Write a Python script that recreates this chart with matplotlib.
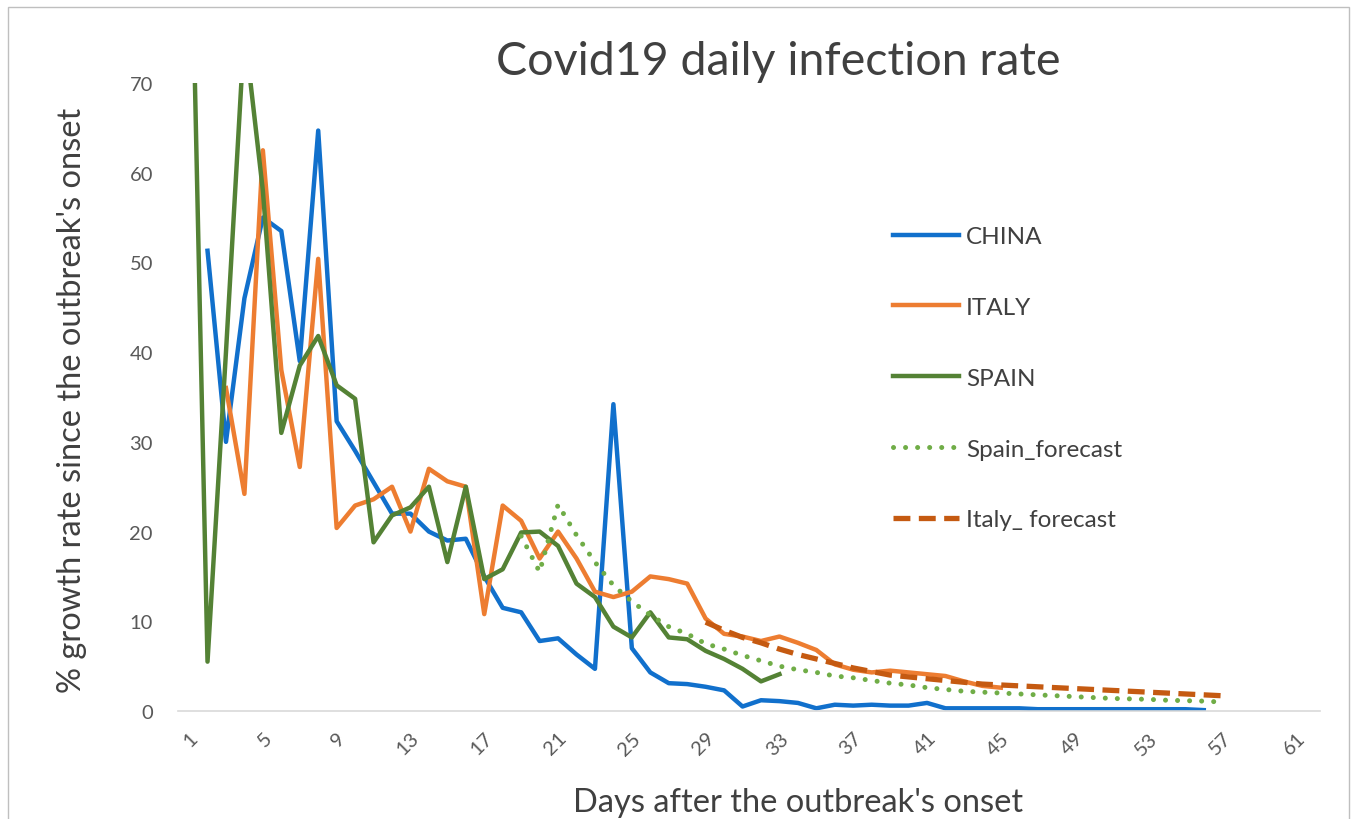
import matplotlib
matplotlib.use("Agg")
import matplotlib.pyplot as plt
from matplotlib.patches import Rectangle

plt.rcParams['font.family'] = ['Lato', 'DejaVu Sans']

# values (% growth per day)
china_start = 2
china = [51.3, 30, 46, 55, 53.5, 39, 64.7, 32.3, 29, 25.5, 22, 22, 20, 19, 19.2,
         15, 11.5, 11, 7.8, 8.1, 6.3, 4.7, 34.2, 7, 4.3, 3.1, 3, 2.7, 2.3, 0.5,
         1.2, 1.1, 0.9, 0.3, 0.7, 0.6, 0.7, 0.6, 0.6, 0.9, 0.3, 0.3, 0.3, 0.3, 0.3,
         0.2, 0.2, 0.2, 0.2, 0.2, 0.2, 0.2, 0.2, 0.2, 0.1]

italy_start = 3
italy = [36, 24.2, 62.5, 38, 27.2, 50.4, 20.4, 22.9, 23.6, 25, 20, 27, 25.6, 25,
         10.8, 22.9, 21.2, 17, 20, 17, 13.3, 12.7, 13.3, 15, 14.7, 14.2, 10.3, 8.6,
         8.3, 7.8, 8.3, 7.6, 6.8, 5.2, 4.6, 4.3, 4.5, 4.3, 4.1, 3.9, 3.3, 2.8, 2.6]

spain_start = 1
spain = [100, 5.5, 40, 76, 58, 31, 38.5, 41.8, 36.3, 34.8, 18.8, 21.8, 22.7, 25,
         16.6, 25, 14.7, 15.8, 19.9, 20, 18.4, 14.2, 12.7, 9.4, 8.2, 11, 8.2, 8,
         6.7, 5.8, 4.7, 3.3, 4.1]

spain_fc_start = 19
spain_fc = [19.5, 15.5, 23, 19.6, 16.6, 14, 12.2, 10.7, 9.4, 8.6, 7.5, 6.9, 6.2,
            5.6, 5.0, 4.6, 4.3, 3.9, 3.7, 3.4, 3.1, 2.9, 2.6, 2.4, 2.2, 2.1, 2.0,
            1.9, 1.8, 1.7, 1.6, 1.5, 1.4, 1.35, 1.3, 1.2, 1.15, 1.1, 1.0]

italy_fc_start = 29
italy_fc = [9.9, 9.0, 8.2, 7.6, 6.9, 6.3, 5.8, 5.3, 4.8, 4.4, 4.0, 3.8, 3.6, 3.4,
            3.2, 3.0, 2.9, 2.8, 2.7, 2.6, 2.5, 2.4, 2.3, 2.2, 2.1, 2.0, 1.9, 1.8, 1.7]

x_ticks = list(range(1, 62, 4))
y_ticks = list(range(0, 71, 10))


def days(start, vals):
    return list(range(start, start + len(vals)))


fig = plt.figure(figsize=(13.57, 8.2), dpi=100)
ax = fig.add_axes([178/1357, 1-712/820, (1320-178)/1357, (712-84)/820])

ax.plot(days(china_start, china), china, color='#1170CC', lw=3.2, label='CHINA')
ax.plot(days(italy_start, italy), italy, color='#ED7D31', lw=3.2, label='ITALY')
ax.plot(days(spain_start, spain), spain, color='#548235', lw=3.2, label='SPAIN')
ax.plot(days(spain_fc_start, spain_fc), spain_fc, color='#70AD47', lw=3.6,
        linestyle=(0, (0.01, 2.4)), dash_capstyle='round', label='Spain_forecast')
ax.plot(days(italy_fc_start, italy_fc), italy_fc, color='#C55A11', lw=3.8,
        linestyle=(0, (3.2, 1.6)), label='Italy_ forecast')

ax.set_xlim(0.4, 62.3)
ax.set_ylim(0, 70)
ax.set_xticks(x_ticks)
ax.set_xticklabels([str(t) for t in x_ticks], rotation=45, ha='right',
                   rotation_mode='anchor')
ax.set_yticks(y_ticks)
ax.tick_params(axis='both', length=0, labelsize=14.5, labelcolor='#595959')
ax.tick_params(axis='y', pad=18)
ax.tick_params(axis='x', pad=13)
for s in ['top', 'right', 'left']:
    ax.spines[s].set_visible(False)
ax.spines['bottom'].set_color('#D9D9D9')
ax.spines['bottom'].set_linewidth(1.2)

fig.text(778/1357, 1-62/820, 'Covid19 daily infection rate', fontsize=33.5,
         color='#404040', ha='center', va='center')
fig.text(798/1357, 1-803/820, "Days after the outbreak's onset", fontsize=23.5,
         color='#404040', ha='center', va='center')
fig.text(72/1357, 1-400/820, "% growth rate since the outbreak's onset", fontsize=23.5,
         color='#404040', ha='center', va='center', rotation=90)

leg = ax.legend(loc='upper left', bbox_to_anchor=(893/1357, 1-227/820),
                bbox_transform=fig.transFigure, frameon=False, fontsize=17.5,
                labelspacing=2.05, handlelength=2.7, handletextpad=0.3,
                borderaxespad=0, borderpad=0)
for t in leg.get_texts():
    t.set_color('#404040')

fig.patches.append(Rectangle((8/1357, -0.1), (1349-8)/1357, 1.1-8/820,
                             transform=fig.transFigure, fill=False,
                             edgecolor='#BFBFBF', lw=1))

fig.savefig('out.png', dpi=100)
